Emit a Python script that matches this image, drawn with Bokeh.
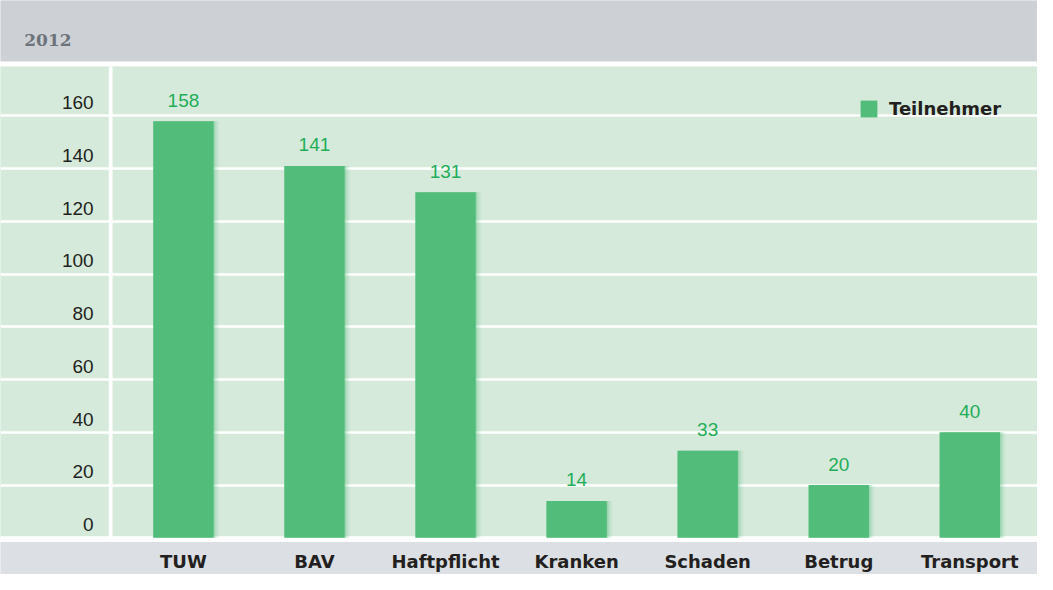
from bokeh.plotting import figure
from bokeh.models import (Range1d, LinearAxis, FixedTicker, Grid, Legend,
                          LegendItem, Label, ColumnDataSource)
from bokeh.core.properties import value
from bokeh.embed import file_html
from bokeh.resources import INLINE

# ---------------- data ----------------
header_text = "2012"
series_name = "Teilnehmer"
categories = ["TUW", "BAV", "Haftpflicht", "Kranken", "Schaden", "Betrug", "Transport"]
teilnehmer = [158, 141, 131, 14, 33, 20, 40]
y_ticks = [0, 20, 40, 60, 80, 100, 120, 140, 160]

# ---------------- layout constants (reference pixel space) ----------------
W, H = 1037, 574
REF_X0, REF_X1 = 7, 1053
REF_Y0, REF_Y1 = 11, 590
ZERO_Y = 553.0          # ref y of value 0
PX_PER_UNIT = 2.66      # ref px per value unit
FIRST_X = 191.5         # ref x of first category centre
STEP = 132.2            # ref px between categories
BAR_W = 61.0
LABEL_SHIFT = 5.0       # tick labels sit above their grid lines

BAR_COLOR = "#52bd7a"
GREEN_BG = "#d5eadb"
HEADER_BG = "#cdd1d5"
FOOTER_BG = "#dcdfe3"
VALUE_COLOR = "#1fae58"
TEXT_COLOR = "#231f20"

y_start = (ZERO_Y - REF_Y1) / PX_PER_UNIT
y_end = (ZERO_Y - REF_Y0) / PX_PER_UNIT
x_start = (REF_X0 - FIRST_X) / STEP
x_end = (REF_X1 - FIRST_X) / STEP

p = figure(width=W, height=H, output_backend="svg", toolbar_location=None,
           x_axis_type=None, y_axis_type=None, min_border=0,
           x_range=Range1d(x_start, x_end), y_range=Range1d(y_start, y_end),
           background_fill_color="white", border_fill_color="white",
           outline_line_color=None)

p.extra_x_ranges = {"page": Range1d(REF_X0, REF_X1)}
p.extra_y_ranges = {"page": Range1d(REF_Y1, REF_Y0),
                    "ylab": Range1d(y_start - LABEL_SHIFT, y_end - LABEL_SHIFT)}

# soft shadow to the right of the bars: shifted copies of the x range
shadow_steps = [(1.5, 0.22), (3.0, 0.14), (4.5, 0.08), (6.0, 0.04)]
for k, (px, _a) in enumerate(shadow_steps):
    d = px / STEP
    p.extra_x_ranges[f"sh{k}"] = Range1d(x_start - d, x_end - d)

# background panels
bands = ColumnDataSource(dict(
    left=[REF_X0, REF_X0, 116.7, REF_X0],
    right=[REF_X1, REF_X1, 119.5, REF_X1],
    top=[REF_Y0, 78, 78, 557.7],
    bottom=[72, 552, 552, REF_Y1],
    color=[HEADER_BG, GREEN_BG, "white", FOOTER_BG],
))
p.quad(left="left", right="right", top="top", bottom="bottom", color="color",
       source=bands, x_range_name="page", y_range_name="page", level="image")

# grid
grid = Grid(dimension=1, ticker=FixedTicker(ticks=y_ticks),
            grid_line_color="white", grid_line_width=2.5)
p.add_layout(grid)

# bars
src = ColumnDataSource(dict(
    x=list(range(len(categories))),
    cat=categories,
    value=teilnehmer,
    label=[str(v) for v in teilnehmer],
))
for k, (_px, a) in enumerate(shadow_steps):
    p.vbar(x="x", top="value", bottom=0, width=BAR_W / STEP, source=src,
           fill_color=BAR_COLOR, fill_alpha=a, line_color=None,
           x_range_name=f"sh{k}")

bars = p.vbar(x="x", top="value", bottom=0, width=BAR_W / STEP, source=src,
              fill_color=BAR_COLOR, line_color=None)

p.text(x="x", y="value", text="label", source=src, text_align="center",
       text_baseline="alphabetic", y_offset=-21,
       text_font=value("Liberation Sans"), text_font_size="19px",
       text_color=VALUE_COLOR)

# y axis (inside the left green column)
yaxis = LinearAxis(y_range_name="ylab", x_range_name="page", fixed_location=101,
                   ticker=FixedTicker(ticks=y_ticks),
                   axis_line_color=None, major_tick_line_color=None,
                   minor_tick_line_color=None, major_tick_in=0, major_tick_out=0,
                   major_label_standoff=0,
                   major_label_text_font="Liberation Sans",
                   major_label_text_font_size="19px",
                   major_label_text_color=TEXT_COLOR)
p.add_layout(yaxis, "left")

# x axis (inside the bottom grey band)
xaxis = LinearAxis(y_range_name="page", fixed_location=566,
                   ticker=FixedTicker(ticks=list(range(len(categories)))),
                   major_label_overrides={i: c for i, c in enumerate(categories)},
                   axis_line_color=None, major_tick_line_color=None,
                   minor_tick_line_color=None, major_tick_in=0, major_tick_out=0,
                   major_label_standoff=0,
                   major_label_text_font="DejaVu Sans",
                   major_label_text_font_style="bold",
                   major_label_text_font_size="18px",
                   major_label_text_color=TEXT_COLOR)
p.add_layout(xaxis, "below")

# header text
p.add_layout(Label(x=31, y=50.7, x_range_name="page", y_range_name="page",
                   text=header_text, text_font="DejaVu Serif",
                   text_font_style="bold", text_font_size="17px",
                   text_color="#6d737a", text_baseline="alphabetic",
                   text_align="left"))

# legend
legend = Legend(items=[LegendItem(label=series_name, renderers=[bars])],
                location=(858, 455), padding=0, margin=0, spacing=0,
                glyph_width=21, glyph_height=21, label_standoff=10,
                label_height=21,
                label_text_font="DejaVu Sans", label_text_font_style="bold",
                label_text_font_size="18px", label_text_color=TEXT_COLOR,
                background_fill_alpha=0, border_line_color=None)
p.add_layout(legend)

open("out.html", "w").write(file_html(p, INLINE))
